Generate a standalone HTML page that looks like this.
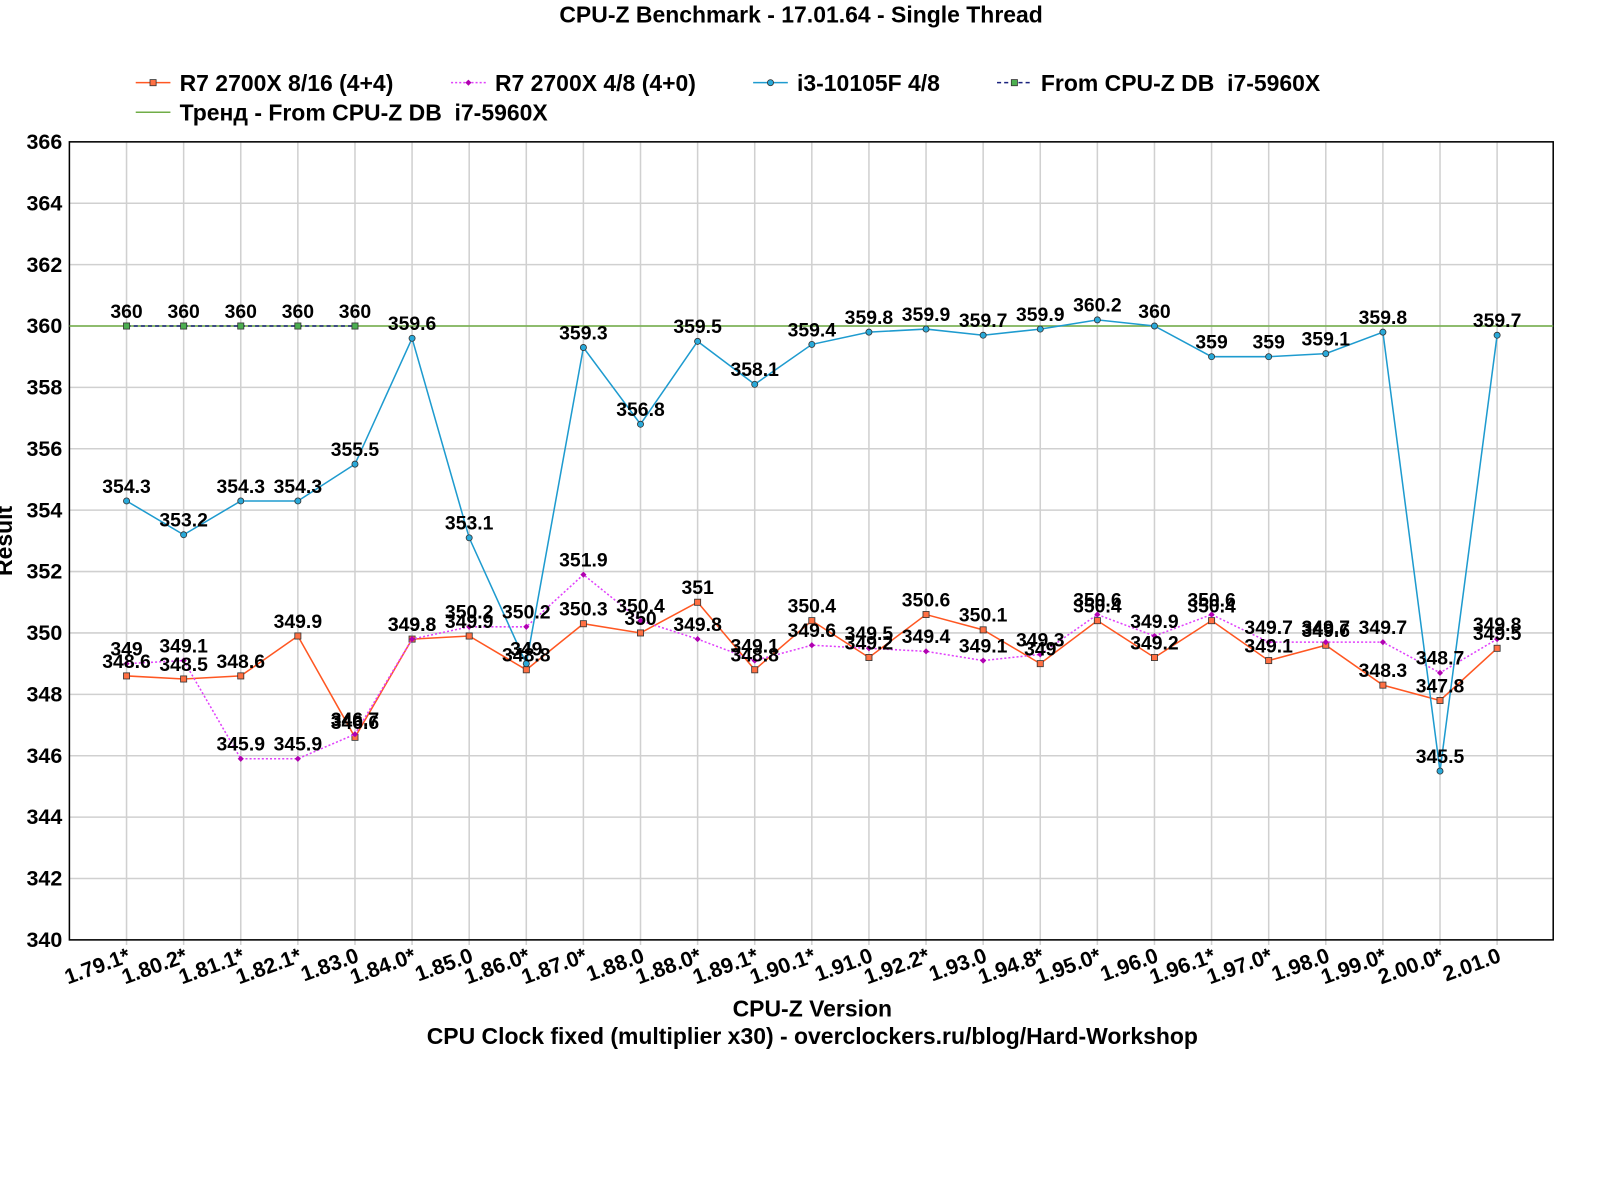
<!DOCTYPE html>
<html><head><meta charset="utf-8"><style>
body{margin:0;background:#fff;overflow:hidden;}
svg text{font-family:"Liberation Sans",sans-serif;font-weight:bold;fill:#000;}
</style></head><body>
<svg width="1600" height="1176" xmlns="http://www.w3.org/2000/svg"><g id="c" transform="scale(1.0205)"></g></svg>
<script>
const s=document.getElementById('c');
let h='';
const X0=68,X1=1522,Y0=139,Y1=921;
const px=i=>124+55.96*i, py=v=>921-(v-340)*30.077;
h+=`<text x="785" y="22" font-size="22.5" text-anchor="middle">CPU-Z Benchmark - 17.01.64 - Single Thread</text>`;
for(let v=340;v<=366;v+=2){const y=py(v);h+=`<line x1="${X0}" x2="${X1}" y1="${y}" y2="${y}" stroke="#d0d0d0" stroke-width="1.5"/>`;
h+=`<text x="61" y="${y+7}" font-size="21" text-anchor="end">${v}</text>`;}
const cats=["1.79.1*","1.80.2*","1.81.1*","1.82.1*","1.83.0","1.84.0*","1.85.0","1.86.0*","1.87.0*","1.88.0","1.88.0*","1.89.1*","1.90.1*","1.91.0","1.92.2*","1.93.0","1.94.8*","1.95.0*","1.96.0","1.96.1*","1.97.0*","1.98.0","1.99.0*","2.00.0*","2.01.0"];
cats.forEach((c,i)=>{const x=px(i);h+=`<line x1="${x}" x2="${x}" y1="${Y0}" y2="${Y1+5}" stroke="#d0d0d0" stroke-width="1.5"/>`;
h+=`<text transform="translate(${x+5},${942}) rotate(-20)" font-size="21" text-anchor="end">${c}</text>`;});
h+=`<rect x="${X0}" y="${Y0}" width="${X1-X0}" height="${Y1-Y0}" fill="none" stroke="#000" stroke-width="1.5"/>`;
h+=`<line x1="${X0}" x2="${X1}" y1="${py(360)}" y2="${py(360)}" stroke="#70ad47" stroke-width="1.5"/>`;
const o=[348.6,348.5,348.6,349.9,346.6,349.8,349.9,348.8,350.3,350,351,348.8,350.4,349.2,350.6,350.1,349,350.4,349.2,350.4,349.1,349.6,348.3,347.8,349.5];
const m=[349,349.1,345.9,345.9,346.7,349.8,350.2,350.2,351.9,350.4,349.8,349.1,349.6,349.5,349.4,349.1,349.3,350.6,349.9,350.6,349.7,349.7,349.7,348.7,349.8];
const b=[354.3,353.2,354.3,354.3,355.5,359.6,353.1,349,359.3,356.8,359.5,358.1,359.4,359.8,359.9,359.7,359.9,360.2,360,359,359,359.1,359.8,345.5,359.7];
const d=[360,360,360,360,360];
function series(a,col,dash,mk,mfill){let p=a.map((v,i)=>px(i)+','+py(v)).join(' ');
h+=`<polyline points="${p}" fill="none" stroke="${col}" stroke-width="1.5" ${dash?'stroke-dasharray="'+dash+'"':''}/>`;
a.forEach((v,i)=>{const x=px(i),y=py(v);
if(mk=='sq')h+=`<rect x="${x-3}" y="${y-3}" width="6" height="6" fill="${mfill}" stroke="#333" stroke-width="0.8"/>`;
else if(mk=='di')h+=`<path d="M${x} ${y-3}L${x+3} ${y}L${x} ${y+3}L${x-3} ${y}Z" fill="${mfill}"/>`;
else h+=`<circle cx="${x}" cy="${y}" r="3" fill="${mfill}" stroke="#333" stroke-width="0.8"/>`;});}
function labels(a){a.forEach((v,i)=>{h+=`<text x="${px(i)}" y="${py(v)-8}" font-size="19" text-anchor="middle">${v}</text>`;});}
series(o,"#ff5722",null,'sq','#ff7043');
series(m,"#e040fb","2,2",'di','#b000b0');
series(b,"#1e9bcf",null,'ci','#29a9d9');
series(d,"#1a237e","4,3",'sq','#4caf50');
labels(o);labels(m);labels(b);labels(d);
function leg(x,y,col,dash,mk,mf,t){h+=`<line x1="${x}" x2="${x+34}" y1="${y}" y2="${y}" stroke="${col}" stroke-width="1.5" ${dash?'stroke-dasharray="'+dash+'"':''}/>`;
const cx=x+17;if(mk=='sq')h+=`<rect x="${cx-3}" y="${y-3}" width="6" height="6" fill="${mf}" stroke="#333" stroke-width="0.8"/>`;
else if(mk=='di')h+=`<path d="M${cx} ${y-3}L${cx+3} ${y}L${cx} ${y+3}L${cx-3} ${y}Z" fill="${mf}"/>`;
else if(mk=='ci')h+=`<circle cx="${cx}" cy="${y}" r="3" fill="${mf}" stroke="#333" stroke-width="0.8"/>`;
h+=`<text x="${x+43}" y="${y+8}" font-size="22.5">${t}</text>`;}
leg(133,81,"#ff5722",null,'sq','#ff7043',"R7 2700X 8/16 (4+4)");
leg(442,81,"#e040fb","2,2",'di','#b000b0',"R7 2700X 4/8 (4+0)");
leg(738,81,"#1e9bcf",null,'ci','#29a9d9',"i3-10105F 4/8");
leg(977,81,"#1a237e","4,3",'sq','#4caf50',"From CPU-Z DB  i7-5960X");
leg(133,110,"#70ad47",null,'',null,"Тренд - From CPU-Z DB  i7-5960X");
h+=`<text x="796" y="996" font-size="22.5" text-anchor="middle">CPU-Z Version</text>`;
h+=`<text x="796" y="1023" font-size="22.5" text-anchor="middle">CPU Clock fixed (multiplier x30) - overclockers.ru/blog/Hard-Workshop</text>`;
h+=`<text transform="translate(12,530) rotate(-90)" font-size="22.5" text-anchor="middle">Result</text>`;
s.innerHTML=h.replace(/ {2}/g,'&#160; ');
</script>
</body></html>
